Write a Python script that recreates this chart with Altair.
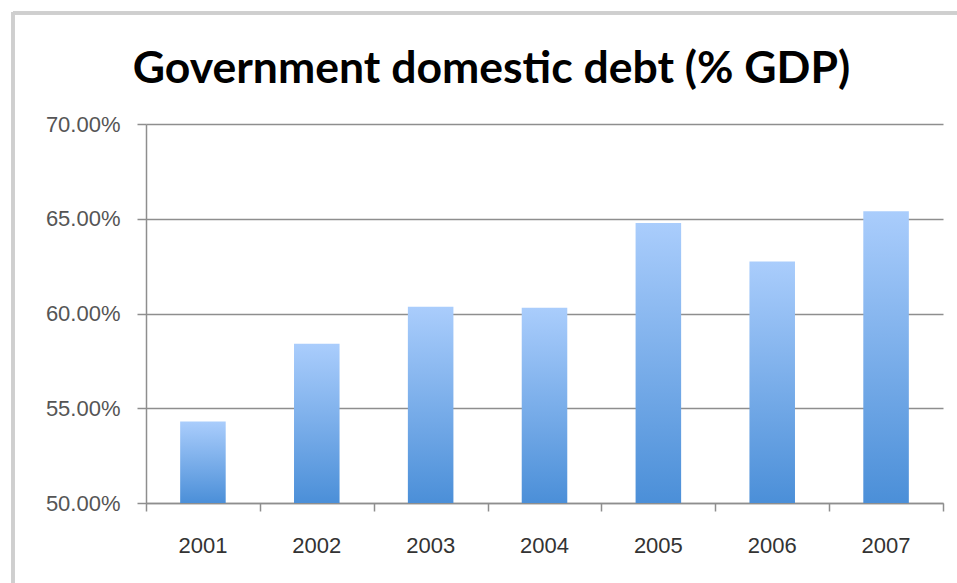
import altair as alt
import pandas as pd

years = ["2001", "2002", "2003", "2004", "2005", "2006", "2007"]
debt = [0.5430, 0.5840, 0.6035, 0.6030, 0.6478, 0.6275, 0.6540]
y_ticks = [0.50, 0.55, 0.60, 0.65, 0.70]
x_tick_slots = [0, 1, 2, 3, 4, 5, 6, 7]
title_text = ["Government domestic debt (% GDP)"]

df = pd.DataFrame({"year": years, "debt": debt})
ticks_df = pd.DataFrame({"slot": x_tick_slots})
title_df = pd.DataFrame({"t": title_text})

W, H = 797, 379
GRID = "#8e8e8e"
FONT = "Liberation Sans"

bars = alt.Chart(df).mark_bar(
    fill=alt.Gradient(
        gradient="linear",
        stops=[alt.GradientStop(color="#aacdfc", offset=0),
               alt.GradientStop(color="#4b8fd8", offset=1)],
        x1=0, x2=0, y1=0, y2=1,
    )
).encode(
    x=alt.X("year:N", title=None,
            scale=alt.Scale(paddingInner=0.6, paddingOuter=0.3),
            axis=alt.Axis(labelAngle=0, ticks=False, domain=False,
                          labelFont=FONT, labelFontSize=22, labelColor="#333333",
                          labelPadding=32, grid=False)),
    y=alt.Y("debt:Q", title=None,
            scale=alt.Scale(domain=[0.5, 0.7], zero=False, nice=False),
            axis=alt.Axis(values=y_ticks, format=".2%", grid=True,
                          gridColor=GRID, gridWidth=1.5, gridOpacity=1,
                          domainColor=GRID, domainWidth=1.5,
                          tickColor=GRID, tickWidth=1.5, tickSize=9,
                          labelFont=FONT, labelFontSize=22, labelColor="#555555",
                          labelPadding=17)),
    y2=alt.datum(0.5),
)

xticks = alt.Chart(ticks_df).mark_point(opacity=0).encode(
    x=alt.X("slot:Q", title=None,
            scale=alt.Scale(domain=[0, 7], nice=False, zero=False),
            axis=alt.Axis(values=x_tick_slots, labels=False, orient="bottom",
                          grid=False, domainColor=GRID, domainWidth=1.5,
                          tickColor=GRID, tickWidth=1.5, tickSize=8)),
    y=alt.value(0),
)

frame_top = alt.Chart(ticks_df).mark_rule(color="#cfcfcf", strokeWidth=3).encode(
    x=alt.value(-133), x2=alt.value(W + 20), y=alt.value(-111)
)
frame_left = alt.Chart(ticks_df).mark_rule(color="#cfcfcf", strokeWidth=3).encode(
    x=alt.value(-133), y=alt.value(-112), y2=alt.value(H + 90)
)

title = alt.Chart(title_df).mark_text(
    font="Lato", fontSize=44.5, fontWeight="bold", color="#000000",
    align="center", baseline="alphabetic",
).encode(
    text="t:N", x=alt.value(W / 2 - 53), y=alt.value(-41)
)

chart = alt.layer(bars, xticks, frame_top, frame_left, title).resolve_scale(
    x="independent"
).properties(
    width=W, height=H,
    background="white",
    autosize=alt.AutoSizeParams(type="none"),
    padding={"left": 146, "top": 124, "right": 14, "bottom": 80},
).configure_view(stroke="transparent", strokeWidth=0)

chart.save("out.html", embed_options={"renderer": "svg", "actions": False})
